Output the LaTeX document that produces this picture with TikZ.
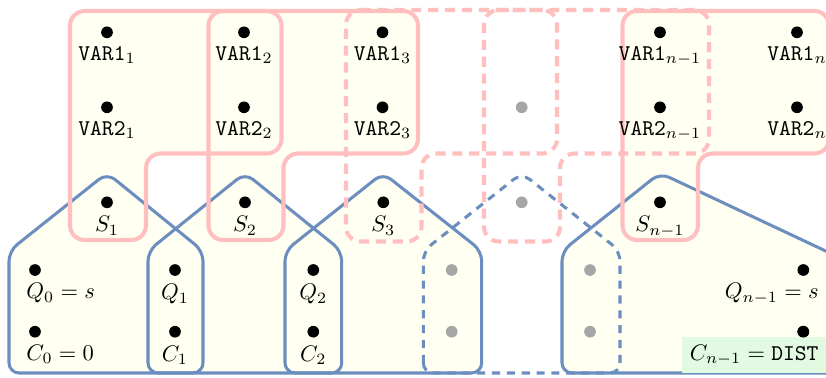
\documentclass[tikz,border=0pt]{standalone}
\definecolor{ivory}{rgb}{1,1,0.95}
\definecolor{pinkline}{RGB}{255,191,191}
\definecolor{blueline}{RGB}{108,142,191}
\definecolor{greybullet}{RGB}{166,166,166}
\definecolor{greenbox}{RGB}{226,250,226}
\begin{document}
\begin{tikzpicture}[x=0.44444pt,y=-0.44444pt,
  pinkfill/.style={fill=ivory, rounded corners=6.5pt},
  pinkedge/.style={draw=pinkline, line width=1.8pt, rounded corners=6.5pt},
  pinkdash/.style={pinkedge, dash pattern=on 4.5pt off 3pt},
  bluefill/.style={fill=ivory, rounded corners=4.5pt},
  blueedge/.style={draw=blueline, line width=1.35pt, rounded corners=4.5pt, line join=round},
  bluedash/.style={blueedge, dash pattern=on 3.6pt off 3pt},
  dot/.style={circle, fill=black, inner sep=0pt, minimum size=5.2pt},
  gdot/.style={dot, fill=greybullet},
]
\useasboundingbox (0,0) rectangle (826,377);
\clip (0,0) rectangle (826,377);

% pink shapes (step groups)
\def\shpPa{(70,11) -- (281.5,11) -- (281.5,153.5) -- (146,153.5) -- (146,240) -- (70,240) -- cycle}
\def\shpPb{(208.5,11) -- (418,11) -- (418,153.5) -- (283.5,153.5) -- (283.5,240) -- (208.5,240) -- cycle}
\def\shpPc{(346,10) -- (557,10) -- (557,153.5) -- (421.5,153.5) -- (421.5,241.5) -- (346,241.5) -- cycle}
\def\shpPd{(484,10) -- (709,10) -- (709,153.5) -- (560,153.5) -- (560,241.5) -- (484,241.5) -- cycle}
\def\shpPe{(622.5,11) -- (829,11) -- (829,153.5) -- (698,153.5) -- (698,240) -- (622.5,240) -- cycle}
% blue houses
\def\shpBa{(9,373) -- (9,251) -- (107,173) -- (203,251) -- (203,373) -- cycle}
\def\shpBb{(148,373) -- (148,251) -- (245,173) -- (341.7,251) -- (341.7,373) -- cycle}
\def\shpBc{(285,373) -- (285,251) -- (383,173) -- (481.7,251) -- (481.7,373) -- cycle}
\def\shpBd{(423.3,373) -- (423.3,251) -- (521.7,173) -- (620,251) -- (620,373) -- cycle}
\def\shpBe{(562,373) -- (562,251) -- (660,173) -- (900,286) -- (900,373) -- cycle}

% fills
\fill[pinkfill] \shpPa;
\fill[pinkfill] \shpPb;
\fill[pinkfill] \shpPe;
\fill[bluefill] \shpBa;
\fill[bluefill] \shpBb;
\fill[bluefill] \shpBc;
\fill[bluefill] \shpBe;
% blue outlines
\draw[blueedge] \shpBa;
\draw[blueedge] \shpBb;
\draw[blueedge] \shpBc;
\draw[blueedge] \shpBe;
\draw[bluedash] \shpBd;
% pink outlines
\draw[pinkedge] \shpPa;
\draw[pinkedge] \shpPb;
\draw[pinkedge] \shpPe;
\draw[pinkdash] \shpPc;
\draw[pinkdash] \shpPd;

% variable dots
\node[dot, label=below:{\texttt{VAR1}$_1$}] (va1) at (107,32.3) {};
\node[dot, label=below:{\texttt{VAR2}$_1$}] (vb1) at (107,107.3) {};
\node[dot, label=below:{\texttt{VAR1}$_2$}] (va2) at (244,32.3) {};
\node[dot, label=below:{\texttt{VAR2}$_2$}] (vb2) at (244,107.3) {};
\node[dot, label=below:{\texttt{VAR1}$_3$}] (va3) at (382.5,32.3) {};
\node[dot, label=below:{\texttt{VAR2}$_3$}] (vb3) at (382.5,107.3) {};
\node[gdot] (vb4) at (521.7,107.3) {};
\node[dot, label=below:{\texttt{VAR1}$_{n-1}$}] (va5) at (660,32.3) {};
\node[dot, label=below:{\texttt{VAR2}$_{n-1}$}] (vb5) at (660,107.3) {};
\node[dot, label=below:{\texttt{VAR1}$_{n}$}] (va6) at (797,32.3) {};
\node[dot, label=below:{\texttt{VAR2}$_{n}$}] (vb6) at (797,107.3) {};

\node[dot, label=below:{$S_1$}] (s1) at (107,202.3) {};
\node[dot, label=below:{$S_2$}] (s2) at (245,202.3) {};
\node[dot, label=below:{$S_3$}] (s3) at (383.3,202.3) {};
\node[gdot] (s4) at (521.7,202.3) {};
\node[dot, label=below:{$S_{n-1}$}] (s5) at (660,202.3) {};

\node[dot] (q0) at (35,270) {};
\node[dot] (c0) at (35,331.7) {};
\node[dot, label=below:{$Q_1$}] (q1) at (175,270) {};
\node[dot, label=below:{$C_1$}] (c1) at (175,331.7) {};
\node[dot, label=below:{$Q_2$}] (q2) at (313.3,270) {};
\node[dot, label=below:{$C_2$}] (c2) at (313.3,331.7) {};
\node[gdot] (q3) at (451.7,270) {};
\node[gdot] (c3) at (451.7,331.7) {};
\node[gdot] (q4) at (590,270) {};
\node[gdot] (c4) at (590,331.7) {};
\node[dot] (q5) at (803.3,270) {};
\node[dot] (c5) at (803.3,331.7) {};

\node[anchor=north west] (lq0) at (18.5,275.5) {$Q_0=s$};
\node[anchor=north west] (lc0) at (18.5,337) {$C_0=0$};
\node[anchor=north east] (lq5) at (826.5,275.5) {$Q_{n-1}=s$};
\node[anchor=north east, fill=greenbox] (lc5) at (826.5,336.7) {$C_{n-1}=\texttt{DIST}$};
\node[dot] at (c5) {};
\end{tikzpicture}
\end{document}
